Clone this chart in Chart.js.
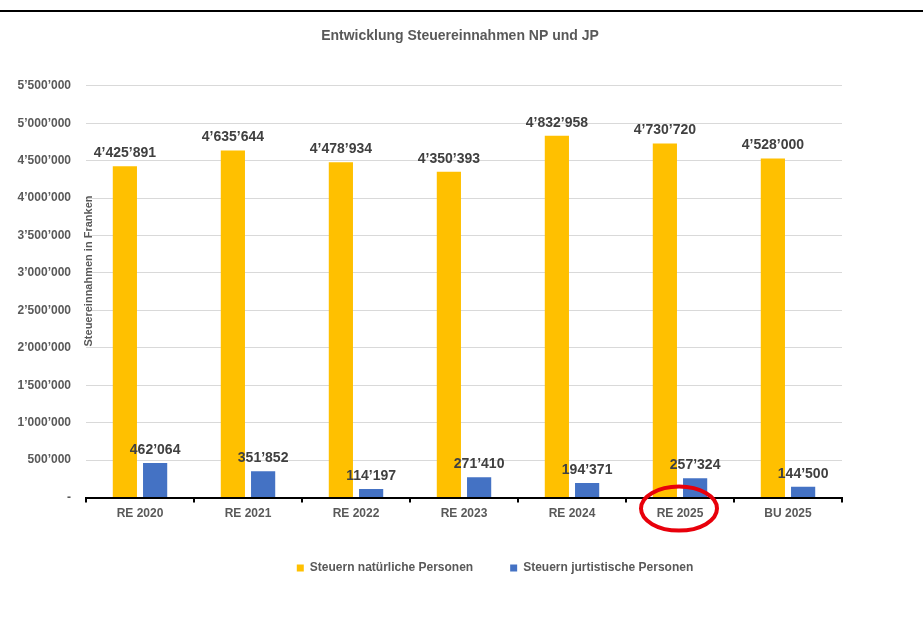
<!DOCTYPE html>
<html lang="de">
<head>
    <meta charset="UTF-8">
    <title>Entwicklung Steuereinnahmen NP und JP</title>
    <script src="https://cdn.jsdelivr.net/npm/chart.js"></script>
    <style>
        body { margin: 0; background: #fff; }
        #wrap { position: relative; width: 923px; height: 618px; }
        #topline { position: absolute; left: 0; top: 10px; width: 923px; height: 2px; background: #000; }
    </style>
</head>
<body>
    <div id="wrap">
        <div id="topline"></div>
        <canvas id="steuerChart"></canvas>
    </div>
    <script>
        // Daten aus der Grafik
        const jahre = ['RE 2020', 'RE 2021', 'RE 2022', 'RE 2023', 'RE 2024', 'RE 2025', 'BU 2025'];
        const natuerlich = [4425891, 4635644, 4478934, 4350393, 4832958, 4730720, 4528000];
        const juristisch = [462064, 351852, 114197, 271410, 194371, 257324, 144500];
        const markiert = 5; // RE 2025 rot eingekreist

        const schrift = 'Liberation Sans, Arial, sans-serif';

        function fmt(v) {
            return String(Math.round(v)).replace(/\B(?=(\d{3})+(?!\d))/g, '\u2019');
        }

        // Werte über den Balken, Achsentitel, rote Markierung
        const wertePlugin = {
            id: 'werte',
            afterLayout(chart) {
                // Titel und Legende wie im Original verschieben
                chart.titleBlock.left += 39;
                chart.titleBlock.right += 39;
                chart.legend.left += 74;
                chart.legend.right += 74;
            },
            afterDatasetsDraw(chart) {
                const ctx = chart.ctx;
                ctx.save();
                ctx.font = 'bold 14px ' + schrift;
                ctx.fillStyle = '#404040';
                ctx.textAlign = 'center';
                ctx.textBaseline = 'middle';
                chart.data.datasets.forEach((ds, i) => {
                    chart.getDatasetMeta(i).data.forEach((bar, j) => {
                        ctx.fillText(fmt(ds.data[j]), bar.x, bar.y - 13);
                    });
                });
                const a = chart.chartArea;
                ctx.font = 'bold 11px ' + schrift;
                ctx.fillStyle = '#595959';
                ctx.translate(a.left + 3, 271);
                ctx.rotate(-Math.PI / 2);
                ctx.fillText('Steuereinnahmen in Franken', 0, 0);
                ctx.restore();
            },
            afterDraw(chart) {
                const ctx = chart.ctx;
                const x = chart.scales.x.getPixelForValue(markiert);
                const y = chart.chartArea.bottom + 11;
                ctx.save();
                ctx.strokeStyle = '#e8000b';
                ctx.lineWidth = 4;
                ctx.beginPath();
                ctx.ellipse(x - 1, y, 38, 22, 0, 0, Math.PI * 2);
                ctx.stroke();
                ctx.restore();
            }
        };

        const ctx = document.getElementById('steuerChart').getContext('2d');
        new Chart(ctx, {
            type: 'bar',
            data: {
                labels: jahre,
                datasets: [{
                    label: 'Steuern natürliche Personen',
                    data: natuerlich,
                    backgroundColor: '#FFC000',
                    categoryPercentage: 0.56,
                    barPercentage: 0.8
                }, {
                    label: 'Steuern jurtistische Personen',
                    data: juristisch,
                    backgroundColor: '#4472C4',
                    categoryPercentage: 0.56,
                    barPercentage: 0.8
                }]
            },
            options: {
                responsive: true,
                maintainAspectRatio: false,
                animation: false,
                layout: { padding: { top: 20, right: 81, bottom: 34, left: 0 } },
                plugins: {
                    title: {
                        display: true,
                        text: 'Entwicklung Steuereinnahmen NP und JP',
                        color: '#595959',
                        font: { family: schrift, size: 14, weight: 'bold' },
                        padding: { top: 8, bottom: 41 }
                    },
                    legend: {
                        position: 'bottom',
                        labels: {
                            boxWidth: 7,
                            boxHeight: 7,
                            padding: 37,
                            color: '#595959',
                            font: { family: schrift, size: 12, weight: 'bold' }
                        }
                    },
                    tooltip: { enabled: false }
                },
                scales: {
                    x: {
                        border: { display: true, color: '#000', width: 2 },
                        grid: { drawOnChartArea: false, tickLength: 5, color: '#000', lineWidth: 2 },
                        ticks: {
                            padding: 4,
                            color: '#595959',
                            font: { family: schrift, size: 12, weight: 'bold' }
                        }
                    },
                    y: {
                        min: 0,
                        max: 5500000,
                        border: { display: false },
                        grid: { color: '#d9d9d9', drawTicks: false },
                        afterFit: s => { s.width = 86; },
                        ticks: {
                            stepSize: 500000,
                            padding: 15,
                            color: '#595959',
                            font: { family: schrift, size: 12, weight: 'bold' },
                            callback: v => v === 0 ? '-' : fmt(v)
                        }
                    }
                }
            },
            plugins: [wertePlugin]
        });
    </script>
</body>
</html>
